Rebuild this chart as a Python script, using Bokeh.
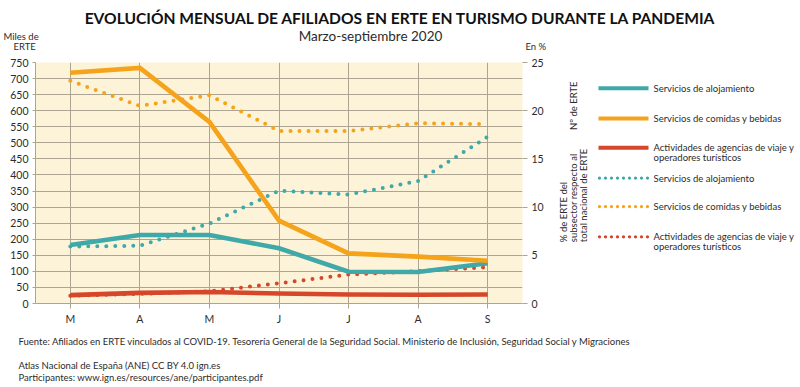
from bokeh.plotting import figure
from bokeh.models import Range1d, LinearAxis, FixedTicker
from bokeh.layouts import column, row
from bokeh.core.properties import value
from bokeh.embed import file_html
from bokeh.resources import INLINE

# ---------------- data ----------------
months = ["M", "A", "M", "J", "J", "A", "S"]
x_pos = [0, 1, 2, 3, 4, 5, 6]

# Nº de ERTE (miles)
aloj_n = [182, 213, 213, 172, 99, 98, 125]
comidas_n = [718, 733, 565, 258, 156, 146, 133]
agencias_n = [26, 33, 36, 31, 28, 27, 28]

# % de ERTE del subsector respecto al total nacional
aloj_pct = [5.9, 6.0, 8.3, 11.7, 11.3, 12.7, 17.3]
comidas_pct = [23.1, 20.5, 21.6, 17.9, 17.9, 18.7, 18.6]
agencias_pct = [0.8, 1.0, 1.27, 2.1, 3.0, 3.35, 3.75]

left_ticks = list(range(0, 751, 50))
right_ticks = [0, 5, 10, 15, 20, 25]

title_txt = "EVOLUCIÓN MENSUAL DE AFILIADOS EN ERTE EN TURISMO DURANTE LA PANDEMIA"
subtitle_txt = "Marzo-septiembre 2020"
legend_labels = ["Servicios de alojamiento", "Servicios de comidas y bebidas",
                 "Actividades de agencias de viaje y\noperadores turísticos"]
footer_src = ("Fuente: Afiliados en ERTE vinculados al COVID-19. Tesorería General de la "
              "Seguridad Social. Ministerio de Inclusión, Seguridad Social y Migraciones")
footer_1 = "Atlas Nacional de España (ANE) CC BY 4.0 ign.es"
footer_2 = "Participantes: www.ign.es/resources/ane/participantes.pdf"

# ---------------- style ----------------
TEAL = "#3FA8A8"
ORANGE = "#F5A31A"
RED = "#D5462A"
BG = "#FDF3D8"
GRID = "#ADA592"
TXT = "#2B2B2B"
FONT = "Lato"


def panel_fig(w, h):
    f = figure(width=w, height=h, output_backend="svg", toolbar_location=None,
               x_range=Range1d(0, w), y_range=Range1d(0, h),
               x_axis_type=None, y_axis_type=None,
               min_border=0, outline_line_color=None)
    f.grid.visible = False
    f.background_fill_color = "white"
    f.border_fill_color = "white"
    return f


def txt(f, x0, y0, h, s, x, y, size="10px", align="left", bold=False,
        angle=0.0, color=TXT):
    # x, y are page positions; converted to the panel's own coordinates
    f.text(x=[x - x0], y=[h - (y - y0)], text=[s], text_font=value(FONT),
           text_font_size=size, text_align=align, text_baseline="middle",
           angle=angle, text_color=color,
           text_font_style="bold" if bold else "normal")


# ---------------- top panel ----------------
TOP_H = 56
top = panel_fig(800, TOP_H)
txt(top, 0, 0, TOP_H, title_txt, 400, 17, size="15.6px", align="center", bold=True,
    color="#111111")
txt(top, 0, 0, TOP_H, subtitle_txt, 370, 35, size="13.5px", align="center")
txt(top, 0, 0, TOP_H, "Miles de", 3, 36, size="9.5px")
txt(top, 0, 0, TOP_H, "ERTE", 13, 46, size="9.5px")
txt(top, 0, 0, TOP_H, "En %", 525, 46, size="9.5px")

# ---------------- main chart ----------------
MW, MH = 550, 271
p = figure(width=MW, height=MH, output_backend="svg", toolbar_location=None,
           x_range=Range1d(-0.5, 6.5), y_range=Range1d(0, 750),
           min_border_left=35, min_border_right=28,
           min_border_top=6, min_border_bottom=22)
p.background_fill_color = BG
p.border_fill_color = "white"
p.outline_line_color = None
p.extra_y_ranges = {"pct": Range1d(0, 25)}

p.xaxis.ticker = FixedTicker(ticks=x_pos)
p.xaxis.major_label_overrides = {i: m for i, m in zip(x_pos, months)}
p.yaxis.ticker = FixedTicker(ticks=left_ticks)
for ax in [p.xaxis[0], p.yaxis[0]]:
    ax.axis_line_color = GRID
    ax.major_tick_line_color = GRID
    ax.major_tick_in = 0
    ax.minor_tick_line_color = None
    ax.major_label_text_font = FONT
    ax.major_label_text_font_size = "10.5px"
    ax.major_label_text_color = TXT
p.xaxis.major_tick_out = 5
p.yaxis.major_tick_out = 3
p.xaxis.major_label_standoff = 4
p.yaxis.major_label_standoff = 4

rax = LinearAxis(y_range_name="pct", ticker=FixedTicker(ticks=right_ticks))
rax.axis_line_color = None
rax.major_tick_line_color = GRID
rax.major_tick_out = 5
rax.major_tick_in = 0
rax.minor_tick_line_color = None
rax.major_label_text_font = FONT
rax.major_label_text_font_size = "10.5px"
rax.major_label_text_color = TXT
rax.major_label_standoff = 4
p.add_layout(rax, "right")

p.xgrid.ticker = FixedTicker(ticks=x_pos)
p.ygrid.ticker = FixedTicker(ticks=left_ticks)
p.grid.grid_line_color = GRID
p.grid.grid_line_width = 1

solid = [(aloj_n, TEAL), (comidas_n, ORANGE), (agencias_n, RED)]
dotted = [(aloj_pct, TEAL), (comidas_pct, ORANGE), (agencias_pct, RED)]
for ys, c in dotted:
    p.line(x_pos, ys, y_range_name="pct", line_color=c, line_width=4,
           line_dash="0 9", line_cap="round")
for ys, c in solid:
    p.line(x_pos, ys, line_color=c, line_width=4.6, line_join="miter")

# ---------------- legend panel ----------------
LX0, LY0 = MW, TOP_H
LW, LH = 800 - MW, MH
leg = panel_fig(LW, LH)
leg_y = [85, 119, 152, 186, 218, 252]
cols = [TEAL, ORANGE, RED, TEAL, ORANGE, RED]
for i, (yy, c) in enumerate(zip(leg_y, cols)):
    ly = LH - (yy - LY0)
    if i < 3:
        leg.line([598 - LX0, 648 - LX0], [ly, ly], line_color=c, line_width=4)
    else:
        leg.line([599 - LX0, 648 - LX0], [ly, ly], line_color=c, line_width=3.3,
                 line_dash="0 6", line_cap="round")
    for k, part in enumerate(legend_labels[i % 3].split("\n")):
        txt(leg, LX0, LY0, LH, part, 653, yy + 11 * k, size="9.5px")

txt(leg, LX0, LY0, LH, "Nº de ERTE", 573, 132, size="9.5px", angle=1.5708)
txt(leg, LX0, LY0, LH, "% de ERTE del", 563, 258, size="9.5px", angle=1.5708)
txt(leg, LX0, LY0, LH, "subsector respecto al", 573, 258, size="9.5px", angle=1.5708)
txt(leg, LX0, LY0, LH, "total nacional de ERTE", 583, 258, size="9.5px", angle=1.5708)

# ---------------- bottom panel ----------------
BY0 = TOP_H + MH
BH = 387 - BY0
bot = panel_fig(800, BH)
txt(bot, 0, BY0, BH, footer_src, 18, 341, size="9.5px")
txt(bot, 0, BY0, BH, footer_1, 18, 365, size="9.5px")
txt(bot, 0, BY0, BH, footer_2, 18, 377, size="9.5px")

layout = column(top, row(p, leg), bot)
open("out.html", "w").write(file_html(layout, INLINE))
